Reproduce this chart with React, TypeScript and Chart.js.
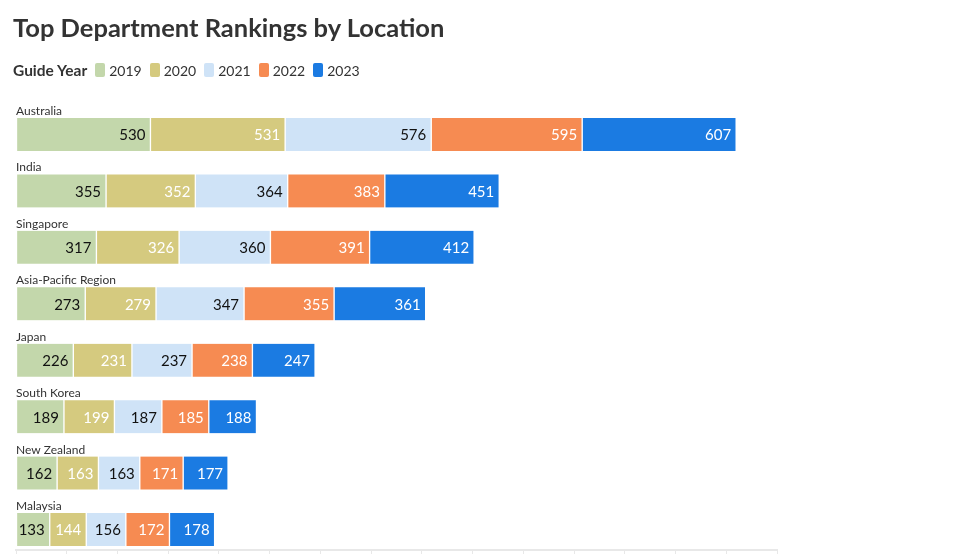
import React, { useEffect, useRef } from "react";
import { Chart, registerables } from "chart.js";

Chart.register(...registerables);

const categories = [
  "Australia",
  "India",
  "Singapore",
  "Asia-Pacific Region",
  "Japan",
  "South Korea",
  "New Zealand",
  "Malaysia",
];
const years = ["2019", "2020", "2021", "2022", "2023"];
const v2019 = [530, 355, 317, 273, 226, 189, 162, 133];
const v2020 = [531, 352, 326, 279, 231, 199, 163, 144];
const v2021 = [576, 364, 360, 347, 237, 187, 163, 156];
const v2022 = [595, 383, 391, 355, 238, 185, 171, 172];
const v2023 = [607, 451, 412, 361, 247, 188, 177, 178];
const seriesValues = [v2019, v2020, v2021, v2022, v2023];
const xTickMax = 3000;
const xTickStep = 200;

const colors = ["#c3d7ab", "#d5ca7f", "#cfe3f7", "#f68b52", "#1b7be2"];
const labelColors = ["#111111", "#ffffff", "#111111", "#ffffff", "#ffffff"];
const FONT = "Lato, 'Noto Sans', sans-serif";

const labelPlugin = {
  id: "barLabels",
  afterDatasetsDraw(chart: any) {
    const ctx = chart.ctx;
    ctx.save();
    chart.data.datasets.forEach((ds: any, di: number) => {
      const meta = chart.getDatasetMeta(di);
      meta.data.forEach((el: any, i: number) => {
        const v = ds.data[i].x;
        ctx.font = `15px ${FONT}`;
        ctx.fillStyle = labelColors[di];
        ctx.textAlign = "right";
        ctx.textBaseline = "middle";
        ctx.fillText(String(v), el.x - 5, el.y + 1);
      });
    });
    const meta0 = chart.getDatasetMeta(0);
    meta0.data.forEach((el: any, i: number) => {
      ctx.font = `12px ${FONT}`;
      ctx.fillStyle = "#333333";
      ctx.textAlign = "left";
      ctx.textBaseline = "alphabetic";
      ctx.fillText(categories[i], chart.chartArea.left, el.y - el.height / 2 - 3);
    });
    ctx.restore();
  },
};

export default function App() {
  const ref = useRef<HTMLCanvasElement | null>(null);

  useEffect(() => {
    if (!ref.current) return;
    const chart = new Chart(ref.current, {
      type: "bar",
      data: {
        datasets: years.map((y, di) => ({
          label: y,
          data: seriesValues[di].map((v, i) => ({ x: v, y: i })),
          backgroundColor: colors[di],
          borderColor: "#ffffff",
          borderWidth: { left: 1, right: 1, top: 0, bottom: 0 },
          borderSkipped: false,
          barThickness: 33,
        })),
      },
      options: {
        indexAxis: "y",
        responsive: false,
        animation: false,
        layout: { padding: { top: 98.4, left: 16, right: 189, bottom: 20 } },
        plugins: { legend: { display: false }, tooltip: { enabled: false } },
        scales: {
          y: {
            type: "linear",
            display: false,
            reverse: true,
            offset: false,
            bounds: "data",
            min: -0.64,
            max: 7.363,
            stacked: true,
          },
          x: {
            type: "linear",
            stacked: true,
            min: 0,
            max: xTickMax,
            position: "bottom",
            afterFit: (scale: any) => {
              scale.height = 30;
            },
            ticks: { stepSize: xTickStep, color: "#666", font: { size: 12, family: FONT } },
            grid: {
              display: true,
              drawOnChartArea: false,
              drawTicks: true,
              tickLength: 8,
              color: "#e8e8e8",
            },
            border: { display: true, color: "#e8e8e8", width: 2 },
          },
        },
      },
      plugins: [labelPlugin],
    } as any);
    return () => chart.destroy();
  }, []);

  return (
    <div
      style={{
        position: "fixed",
        left: 0,
        top: 0,
        width: 966,
        height: 554,
        overflow: "hidden",
        background: "#fff",
        fontFamily: FONT,
      }}
    >
      <canvas
        ref={ref}
        width={966}
        height={600}
        style={{ position: "absolute", left: 0, top: 0, width: 966, height: 600 }}
      />
      <div
        style={{
          position: "absolute",
          left: 13,
          top: 11,
          fontSize: 25.5,
          lineHeight: "32px",
          fontWeight: 700,
          color: "#333333",
          whiteSpace: "nowrap",
        }}
      >
        Top Department Rankings by Location
      </div>
      <div
        style={{
          position: "absolute",
          left: 13,
          top: 60,
          height: 20,
          display: "flex",
          alignItems: "center",
          fontSize: 14,
          color: "#333333",
          whiteSpace: "nowrap",
        }}
      >
        <span style={{ fontWeight: 700, fontSize: 15.5, marginRight: 8 }}>Guide Year</span>
        {years.map((y, i) => (
          <span key={y} style={{ display: "flex", alignItems: "center", marginRight: 8 }}>
            <span
              style={{
                display: "inline-block",
                width: 10,
                height: 14,
                borderRadius: 2,
                background: colors[i],
                marginRight: 4,
              }}
            />
            <span>{y}</span>
          </span>
        ))}
      </div>
    </div>
  );
}
